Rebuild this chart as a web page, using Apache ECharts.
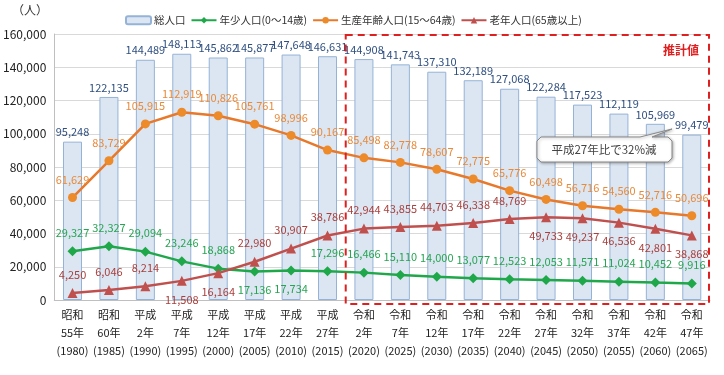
<!DOCTYPE html>
<html>
<head>
<meta charset="utf-8">
<script src="https://cdn.jsdelivr.net/npm/echarts@6/dist/echarts.min.js"></script>
<style>
  html, body { margin: 0; padding: 0; background: #fff; }
  #chart { width: 724px; height: 375px; }
</style>
</head>
<body>
<div id="chart"></div>
<script>
// 年次（和暦・西暦）
var eras = ["昭和", "昭和", "平成", "平成", "平成", "平成", "平成", "平成", "令和", "令和", "令和", "令和", "令和", "令和", "令和", "令和", "令和", "令和"];
var eraYears = ["55年", "60年", "2年", "7年", "12年", "17年", "22年", "27年", "2年", "7年", "12年", "17年", "22年", "27年", "32年", "37年", "42年", "47年"];
var years = ["1980", "1985", "1990", "1995", "2000", "2005", "2010", "2015", "2020", "2025", "2030", "2035", "2040", "2045", "2050", "2055", "2060", "2065"];

var total = [95248, 122135, 144489, 148113, 145862, 145877, 147648, 146631, 144908, 141743, 137310, 132189, 127068, 122284, 117523, 112119, 105969, 99479];
var young = [29327, 32327, 29094, 23246, 18868, 17136, 17734, 17296, 16466, 15110, 14000, 13077, 12523, 12053, 11571, 11024, 10452, 9916];
var working = [61629, 83729, 105915, 112919, 110826, 105761, 98996, 90167, 85498, 82778, 78607, 72775, 65776, 60498, 56716, 54560, 52716, 50696];
var elderly = [4250, 6046, 8214, 11508, 16164, 22980, 30907, 38786, 42944, 43855, 44703, 46338, 48769, 49733, 49237, 46536, 42801, 38868];

var yTicks = [0, 20000, 40000, 60000, 80000, 100000, 120000, 140000, 160000];

// ラベルを下に出す点
var youngBelow = [5, 6];
var elderlyBelow = [3, 4, 13, 14, 15, 16, 17];

var categories = [];
for (var i = 0; i < years.length; i++) {
  categories.push(eras[i] + "\n" + eraYears[i] + "\n(" + years[i] + ")");
}

function comma(v) {
  return String(v).replace(/\B(?=(\d{3})+(?!\d))/g, ",");
}

function withPos(values, below) {
  return values.map(function (v, i) {
    if (below.indexOf(i) >= 0) {
      return { value: v, label: { position: "bottom" } };
    }
    return v;
  });
}

var font = "'Noto Sans CJK JP', 'Noto Sans', sans-serif";
var chart = echarts.init(document.getElementById("chart"));

chart.setOption({
  animation: false,
  textStyle: { fontFamily: font },
  grid: { left: 52, right: 14, top: 34, bottom: 75 },
  legend: {
    top: 10,
    left: 120,
    itemGap: 5,
    itemWidth: 25,
    itemHeight: 8,
    textStyle: { fontSize: 10.5, color: "#333", fontFamily: font, padding: [0, 0, 0, -2] },
    data: ["総人口", "年少人口(0～14歳)", "生産年齢人口(15～64歳)", "老年人口(65歳以上)"]
  },
  xAxis: {
    type: "category",
    data: categories,
    axisTick: { show: false },
    axisLine: { lineStyle: { color: "#bfbfbf" } },
    axisLabel: { interval: 0, fontSize: 11, lineHeight: 18, color: "#222", margin: 6 }
  },
  yAxis: {
    type: "value",
    min: yTicks[0],
    max: yTicks[yTicks.length - 1],
    interval: yTicks[1] - yTicks[0],
    axisLine: { show: true, lineStyle: { color: "#bfbfbf" } },
    axisLabel: { fontSize: 12, color: "#222", formatter: function (v) { return comma(v); } },
    splitLine: { lineStyle: { color: "#d9d9d9" } }
  },
  series: [
    {
      name: "総人口",
      type: "bar",
      barWidth: 19,
      data: total,
      itemStyle: { color: "#dce6f2", borderColor: "#95b3d7", borderWidth: 1 },
      label: { show: true, position: "top", distance: 4, fontSize: 11, color: "#2f4f80", formatter: function (p) { return comma(p.value); } }
    },
    {
      name: "年少人口(0～14歳)",
      type: "line",
      data: withPos(young, youngBelow),
      symbol: "diamond",
      symbolSize: 10,
      lineStyle: { color: "#1fa84a", width: 2.5 },
      itemStyle: { color: "#1fa84a" },
      label: { show: true, position: "top", distance: 8, fontSize: 11, color: "#27a552", formatter: function (p) { return comma(p.value); } }
    },
    {
      name: "生産年齢人口(15～64歳)",
      type: "line",
      data: working,
      symbol: "circle",
      symbolSize: 9,
      lineStyle: { color: "#e8782a", width: 2.5 },
      itemStyle: { color: "#ed8a2a" },
      label: { show: true, position: "top", distance: 8, fontSize: 11, color: "#e88a3a", formatter: function (p) { return comma(p.value); } }
    },
    {
      name: "老年人口(65歳以上)",
      type: "line",
      data: withPos(elderly, elderlyBelow),
      symbol: "triangle",
      symbolSize: 10,
      lineStyle: { color: "#c0504d", width: 2.5 },
      itemStyle: { color: "#c0504d" },
      label: { show: true, position: "top", distance: 8, fontSize: 11, color: "#a9403d", formatter: function (p) { return comma(p.value); } }
    }
  ]
});

// 推計値の枠と注記
var x7 = chart.convertToPixel({ xAxisIndex: 0 }, categories[7]);
var x8 = chart.convertToPixel({ xAxisIndex: 0 }, categories[8]);
var x17 = chart.convertToPixel({ xAxisIndex: 0 }, categories[17]);
var step = x8 - x7;
var boxLeft = (x7 + x8) / 2;
var boxRight = x17 + step / 2 - 1;
var yTop = chart.convertToPixel({ yAxisIndex: 0 }, 160000);
var yBottom = chart.convertToPixel({ yAxisIndex: 0 }, 0);

chart.setOption({
  graphic: [
    {
      type: "text", left: 12, top: 4,
      style: { text: "（人）", fontSize: 12, fill: "#333", fontFamily: font }
    },
    {
      type: "rect",
      shape: { x: boxLeft, y: yTop + 1, width: boxRight - boxLeft, height: yBottom - yTop + 3 },
      style: { fill: "none", stroke: "#e02020", lineWidth: 2, lineDash: [7, 5] },
      z: 100
    },
    {
      type: "text", left: boxRight - 46, top: yTop + 10,
      style: { text: "推計値", fontSize: 12, fontWeight: "bold", fill: "#e02020", fontFamily: font },
      z: 100
    },
    {
      type: "polygon",
      shape: { points: [[541, 137], [640, 137], [672, 129], [652, 137], [668, 137], [672, 141], [672, 158], [668, 162], [541, 162], [537, 158], [537, 141]] },
      style: { fill: "#fff", stroke: "#888", lineWidth: 1, shadowBlur: 3, shadowColor: "rgba(0,0,0,0.3)", shadowOffsetX: 1, shadowOffsetY: 1 },
      z: 100
    },
    {
      type: "text", x: 604, y: 150,
      style: { text: "平成27年比で32%減", fontSize: 11.5, fill: "#444", align: "center", verticalAlign: "middle", fontFamily: font },
      z: 101
    }
  ]
});
</script>
</body>
</html>
